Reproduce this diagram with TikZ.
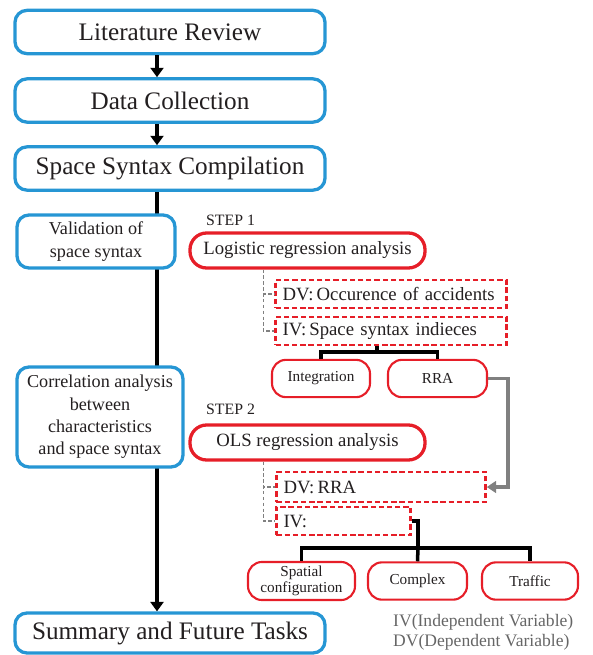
\documentclass[tikz,border=0pt]{standalone}
\usepackage{fontspec}
\setmainfont{Liberation Serif}
\usepackage{tikz}
\usetikzlibrary{arrows.meta}
\definecolor{boxblue}{RGB}{38,150,212}
\definecolor{boxred}{RGB}{230,30,40}
\definecolor{inkgray}{RGB}{35,31,32}

\begin{document}
\begin{tikzpicture}[x=0.03cm, y=-0.03cm,
    every node/.style={text=inkgray},
    mainbox/.style={draw=boxblue, line width=2.8pt, rounded corners=0.36cm, fill=white, minimum width=9.3cm, minimum height=1.3cm, font=\fontsize{21.5}{24}\selectfont},
    sidebox/.style={draw=boxblue, line width=2.8pt, rounded corners=0.36cm, fill=white, align=center, font=\fontsize{15.5}{19}\selectfont},
    redbox/.style={draw=boxred, line width=2.8pt, rounded corners=0.5cm, fill=white, minimum width=7.05cm, minimum height=1.05cm, font=\fontsize{16}{18}\selectfont},
    varbox/.style={draw=boxred, line width=2.1pt, dash pattern=on 4.5pt off 2.5pt, minimum height=0.84cm, text width=#1, align=left, inner xsep=6pt, font=\fontsize{16}{18}\selectfont},
    leaf/.style={draw=boxred, line width=1.8pt, rounded corners=0.42cm, fill=white, minimum height=1.12cm, align=center, font=\fontsize{13}{14}\selectfont},
    steplabel/.style={anchor=west, font=\fontsize{13.5}{15}\selectfont},
    flow/.style={line width=3pt, -{Triangle[length=8pt,width=11pt]}},
    tree/.style={line width=3pt},
    gdash/.style={gray, line width=1.4pt, dash pattern=on 3pt off 2pt},
    garrow/.style={gray, line width=3pt, -{Triangle[length=8pt,width=10pt]}}]

\useasboundingbox (0,0) rectangle (592,655);

% spine of the main flow
\coordinate (spine) at (157,0);

% Main steps (left column)
\node[mainbox] (litrev) at (170,32) {Literature Review};
\node[mainbox] (datacol) at (170,100.5) {Data Collection};
\node[mainbox] (sscomp) at (170,168.5) {Space Syntax Compilation};
\node[mainbox, minimum height=1.2cm] (summary) at (170,633) {Summary and Future Tasks};

\draw[flow] (litrev.south -| spine) -- (datacol.north -| spine);
\draw[flow] (datacol.south -| spine) -- (sscomp.north -| spine);
\draw[flow] (sscomp.south -| spine) -- (summary.north -| spine);

\node[sidebox, minimum width=4.74cm, minimum height=1.59cm] (valid) at (96,241.5) {Validation of\\space syntax};
\node[sidebox, minimum width=4.98cm, minimum height=3cm] (corr) at (100,417) {Correlation analysis\\between\\characteristics\\and space syntax};

% STEP 1
\node[steplabel] (step1) at (202,220) {STEP 1};
\node[redbox] (logit) at (307.5,250.5) {Logistic regression analysis};
\node[varbox=6.5cm] (dv1) at (391,294) {DV:\,Occurence of accidents};
\node[varbox=6.5cm] (iv1) at (391,331) {IV:\,Space syntax indieces};

\draw[gdash] ([xshift=2.25cm]logit.south west) |- (dv1.west);
\draw[gdash] ([xshift=2.25cm]logit.south west) |- (iv1.west);

\node[leaf, minimum width=2.94cm] (integ) at (321,378.5) {Integration};
\node[leaf, minimum width=2.97cm] (rra) at (437.5,378.5) {RRA};

\coordinate (j1) at (377,352);
\draw[tree] (iv1.south -| j1) -- (j1);
\draw[tree] (integ.north) |- (j1) -| (rra.north);

% STEP 2
\node[steplabel] (step2) at (202,409) {STEP 2};
\node[redbox] (ols) at (307.5,442.5) {OLS regression analysis};
\node[varbox=5.85cm, minimum height=0.9cm] (dv2) at (381,487) {DV:\,RRA};
\node[varbox=3.6cm] (iv2) at (343.5,521) {IV:};

\draw[gdash] ([xshift=2.25cm]ols.south west) |- (dv2.west);
\draw[gdash] ([xshift=2.25cm]ols.south west) |- (iv2.west);

% RRA feeds the dependent variable of step 2
\coordinate (bend) at (508,487);
\draw[garrow] (rra.east) -| (bend) -- (dv2.east);

\node[leaf, minimum width=3.21cm] (spatial) at (301.5,581) {Spatial\\configuration};
\node[leaf, minimum width=2.97cm] (complex) at (417.5,581) {Complex};
\node[leaf, minimum width=2.88cm] (traffic) at (530,581) {Traffic};

\coordinate (j2) at (418,548);
\draw[tree] (iv2.east) -| (j2);
\draw[tree] (spatial.north) |- (j2) -| (traffic.north);
\draw[tree] (j2) -- (complex.north);

% Legend
\node[anchor=north west, align=left, text=gray!80!black, font=\fontsize{15}{17}\selectfont, inner sep=0pt] (legend) at (393,614) {IV(Independent Variable)\\DV(Dependent Variable)};

\end{tikzpicture}
\end{document}
